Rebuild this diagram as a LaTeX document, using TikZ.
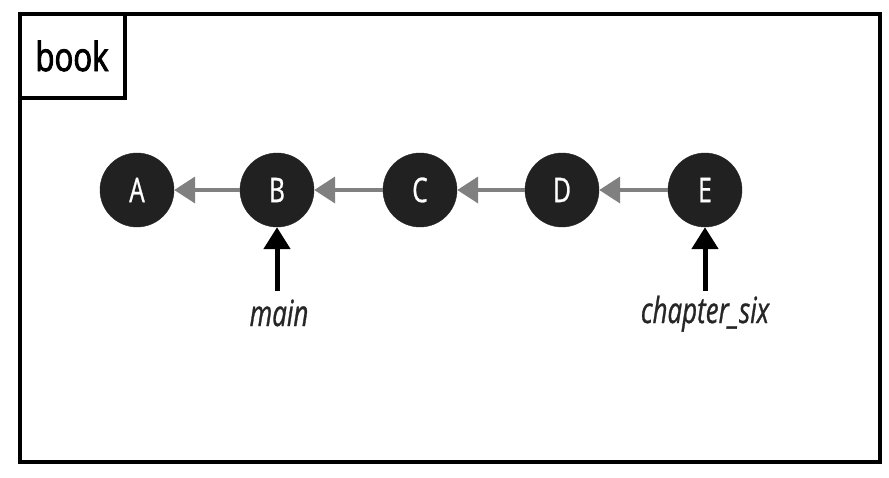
\documentclass[tikz,border=0pt]{standalone}
\usepackage{fontspec}
\setmainfont{Open Sans}[FakeStretch=0.78]
\newfontfamily\heavyfont{Open Sans}[FakeStretch=0.78,FakeBold=2.2]
\newfontfamily\midfont{Open Sans}[FakeStretch=0.72,FakeBold=0.8]
\usetikzlibrary{arrows.meta}
\begin{document}
\begin{tikzpicture}[x=1pt,y=-1pt,
  commit/.style={circle,fill=black!87,draw=black!87,minimum size=74pt,inner sep=0pt,text=white,font=\midfont\fontsize{34}{34}\selectfont},
  link/.style={draw=black!50,line width=4pt,-{Triangle[length=21pt,width=26pt]}},
  ref/.style={draw=black,line width=5pt,-{Triangle[length=22pt,width=26pt]}},
  reflabel/.style={font=\midfont\fontsize{36}{36}\selectfont\itshape,text=black!85,inner sep=0pt,anchor=base}]
\useasboundingbox (0,0) rectangle (889,477);
\draw[line width=4pt] (20,14) rectangle (880,462);
\draw[line width=4pt] (20,14) rectangle (125,98);
\node[font=\heavyfont\fontsize{40}{40}\selectfont,inner sep=0pt] (title) at (72,56) {book};
\node[commit] (A) at (137,190) {A};
\node[commit] (B) at (277,190) {B};
\node[commit] (C) at (420,190) {C};
\node[commit] (D) at (562,190) {D};
\node[commit] (E) at (705,190) {E};
\draw[link] (B) -- (A);
\draw[link] (C) -- (B);
\draw[link] (D) -- (C);
\draw[link] (E) -- (D);
\node[reflabel] (main) at (279,326) {main};
\node[reflabel] (six) at (705,323) {chapter\_six};
\coordinate (mt) at (277,291);
\coordinate (st) at (705,291);
\draw[ref] (mt) -- (B);
\draw[ref] (st) -- (E);
\end{tikzpicture}
\end{document}
